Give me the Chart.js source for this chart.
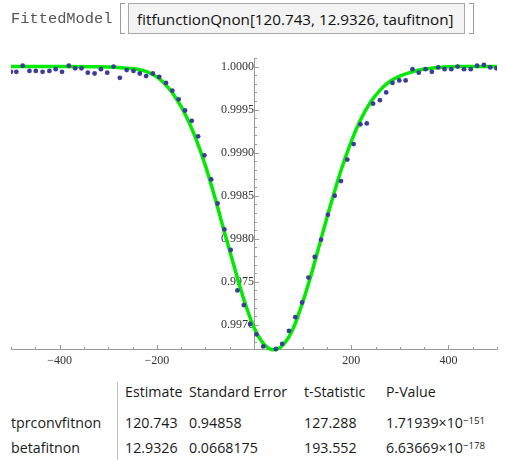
<!DOCTYPE html>
<html><head><meta charset="utf-8">
<script src="https://cdn.jsdelivr.net/npm/chart.js@4.4.1/dist/chart.umd.min.js"></script>
<style>
html,body{margin:0;padding:0;background:#fff;width:507px;height:460px;overflow:hidden;}
body{position:relative;}
#wrap{position:absolute;left:0;top:0;width:507px;height:380px;}
.t{position:absolute;white-space:nowrap;line-height:1.2;transform:translateY(-50%);color:#1a1a1a;}
.tab{font-family:"Open Sans","Noto Sans",sans-serif;font-size:16px;}
sup{font-size:0.68em;vertical-align:0.5em;line-height:0;}
#box{position:absolute;left:128px;top:3px;width:337px;height:31px;background:#f3f3f3;border:1px solid #a9a9a9;box-sizing:border-box;}
.brk{position:absolute;top:3px;height:31px;width:5px;border:1px solid #9a9a9a;box-sizing:border-box;}
#sep{position:absolute;left:117px;top:382px;width:1px;height:78px;background:#c4c4c4;}
</style></head><body>
<div id="wrap"><canvas id="c" width="507" height="380"></canvas></div>
<div class="t" id="fm" style="left:11px;top:19px;font-family:'Liberation Mono','Courier New',monospace;font-size:15px;color:#555;">FittedModel</div>
<div class="brk" style="left:120px;border-right:none;"></div>
<div class="brk" style="left:469px;border-left:none;"></div>
<div id="box"></div>
<div class="t" id="fx" style="left:137px;top:19px;font-family:'Open Sans','Noto Sans',sans-serif;font-size:15px;color:#111;">fitfunctionQnon[120.743, 12.9326, taufitnon]</div>
<div id="sep"></div>
<div id="table"></div>
<script>
// ---- data ----
const dataX = [-500,-489,-476,-462,-449,-435,-421,-408,-395,-381,-368,-355,-342,-328,-315,-302,-289,-276,-262,-248,-235,-222,-208,-195,-181,-168,-155,-142,-128,-115,-102,-88,-75,-61,-48,-34,-21,-8,5,19,32,45,58,72,85,99,112,125,138,152,166,179,192,205,219,232,245,259,272,285,299,312,326,339,353,366,379,392,406,419,432,446,459,473,486,499];
const dataY = [0.99994,0.99994,1.00001,0.99995,0.99995,0.99994,0.99995,0.99997,0.99994,1.00001,0.99998,0.99998,0.99993,0.99992,0.99997,0.99993,1.00000,0.99987,0.99996,0.99995,0.99992,0.99989,0.99992,0.99988,0.99981,0.99972,0.99962,0.99949,0.99937,0.99919,0.99897,0.99869,0.99841,0.99811,0.99787,0.99740,0.99723,0.99701,0.99689,0.99675,0.99669,0.99672,0.99678,0.99693,0.99709,0.99726,0.99755,0.99779,0.99799,0.99828,0.99850,0.99867,0.99892,0.99910,0.99933,0.99934,0.99957,0.99961,0.99970,0.99981,0.99984,0.99984,0.99997,0.99993,0.99997,0.99994,0.99999,0.99997,0.99997,1.00000,0.99997,0.99997,1.00001,1.00002,0.99999,0.99998];
const fitX = [-500,-400,-300,-260,-240,-220,-200,-180,-160,-140,-120,-100,-80,-60,-40,-20,0,20,40,60,80,100,120,140,160,180,200,220,240,260,280,300,320,340,380,420,500];
const fitY = [1.00000,1.00000,0.999995,0.99998,0.99997,0.99994,0.99988,0.99978,0.99963,0.99943,0.99917,0.99885,0.99847,0.99806,0.99766,0.99728,0.99697,0.99678,0.99671,0.99677,0.99695,0.99726,0.99763,0.99804,0.99844,0.99881,0.99913,0.99939,0.99959,0.99973,0.99983,0.99989,0.99993,0.99996,0.99999,1.00000,1.00000];
const xTickLabels = [-400,-200,200,400];
const xMinorTicks = [-500,-450,-350,-300,-250,-150,-100,-50,50,100,150,250,300,350,450,500];
const yTickLabels = [0.9970,0.9975,0.9980,0.9985,0.9990,0.9995,1.0000];
const yMinorTicks = [0.9968,0.9969,0.9971,0.9972,0.9973,0.9974,0.9976,0.9977,0.9978,0.9979,0.9981,0.9982,0.9983,0.9984,0.9986,0.9987,0.9988,0.9989,0.9991,0.9992,0.9993,0.9994,0.9996,0.9997,0.9998,0.9999,1.0001];
const xMin = -500, xMax = 500, yMin = 0.99672, yMax = 1.0001;

const colHeads = ["Estimate","Standard Error","t-Statistic","P-Value"];
const rowNames = ["tprconvfitnon","betafitnon"];
const estimates = ["120.743","12.9326"];
const stdErrors = ["0.94858","0.0668175"];
const tStats = ["127.288","193.552"];
const pMant = ["1.71939","6.63669"];
const pExp = ["\u2212151","\u2212178"];

// ---- table ----
const colX = [11,125,189,304,386];
const rowY = [392,423,448];
const tbl = document.getElementById('table');
function cell(html, x, y){
  const d=document.createElement('div'); d.className='t tab'; d.style.left=x+'px'; d.style.top=y+'px'; d.innerHTML=html; tbl.appendChild(d); return d;
}
const ref = cell(colHeads[0], colX[1], rowY[0]);
const fs = 16*57.5/ref.getBoundingClientRect().width;
ref.remove();
colHeads.forEach((h,i)=>cell(h, colX[i+1], rowY[0]));
rowNames.forEach((r,i)=>{
  const y=rowY[i+1];
  cell(r,colX[0],y); cell(estimates[i],colX[1],y); cell(stdErrors[i],colX[2],y); cell(tStats[i],colX[3],y);
  cell(pMant[i]+'\u00d710<sup>'+pExp[i]+'</sup>',colX[4],y);
});
document.querySelectorAll('.tab').forEach(e=>e.style.fontSize=fs+'px');
function fitW(id,target){const e=document.getElementById(id);const f=parseFloat(e.style.fontSize);e.style.fontSize=(f*target/e.getBoundingClientRect().width)+'px';}
fitW('fm',101.6); fitW('fx',316.6);

// ---- chart ----
const AX='#9a9a9a';
const axesPlugin = {
  id:'mmaAxes',
  beforeDatasetsDraw(chart){
    const {ctx, scales:{x,y}} = chart;
    const x0 = Math.round(x.getPixelForValue(0))+0.5;
    const yb = Math.round(y.getPixelForValue(yMin))+0.5;
    ctx.save(); ctx.strokeStyle=AX; ctx.lineWidth=1; ctx.beginPath();
    ctx.moveTo(x.left,yb); ctx.lineTo(x.right,yb);
    ctx.moveTo(x0,y.top); ctx.lineTo(x0,yb);
    xTickLabels.forEach(v=>{const p=Math.round(x.getPixelForValue(v))+0.5; ctx.moveTo(p,yb); ctx.lineTo(p,yb-4.5);});
    xMinorTicks.forEach(v=>{const p=Math.round(x.getPixelForValue(v))+0.5; ctx.moveTo(p,yb); ctx.lineTo(p,yb-2.5);});
    yTickLabels.forEach(v=>{const p=Math.round(y.getPixelForValue(v))+0.5; ctx.moveTo(x0,p); ctx.lineTo(x0+4.5,p);});
    yMinorTicks.forEach(v=>{const p=Math.round(y.getPixelForValue(v))+0.5; ctx.moveTo(x0,p); ctx.lineTo(x0+2.5,p);});
    ctx.stroke(); ctx.restore();
  }
};
const tickFont = {family:'Liberation Serif, DejaVu Serif, serif', size:12};
new Chart(document.getElementById('c'), {
  type:'scatter',
  data:{datasets:[
    {type:'scatter', data:dataX.map((v,i)=>({x:v,y:dataY[i]})), pointRadius:2.4, pointHoverRadius:2.4, pointBackgroundColor:'#3d3d99', pointBorderWidth:0, order:0, clip:{left:0,right:0,top:6,bottom:6}},
    {type:'line', data:fitX.map((v,i)=>({x:v,y:fitY[i]})), borderColor:'rgb(0,235,0)', borderWidth:3.5, pointRadius:0, cubicInterpolationMode:'monotone', fill:false, order:1, clip:{left:0,right:0,top:6,bottom:6}}
  ]},
  options:{
    responsive:false, animation:false, devicePixelRatio:1,
    layout:{padding:{left:11,right:10,top:58,bottom:11}},
    plugins:{legend:{display:false}, tooltip:{enabled:false}},
    scales:{
      x:{type:'linear', min:xMin, max:xMax, position:'bottom',
         grid:{display:false, drawTicks:false}, border:{display:false},
         afterBuildTicks:s=>{s.ticks=xTickLabels.map(v=>({value:v}));},
         afterFit:s=>{s.height=20;},
         ticks:{padding:5, font:tickFont, color:'#333', maxRotation:0, autoSkip:false,
                callback:v=> (v<0?'\u2212':'')+Math.abs(v)}},
      y:{type:'linear', min:yMin, max:yMax, position:{x:0},
         grid:{display:false, drawTicks:false}, border:{display:false},
         afterBuildTicks:s=>{s.ticks=yTickLabels.map(v=>({value:v}));},
         ticks:{padding:5.5, font:tickFont, color:'#333', autoSkip:false, callback:v=>v.toFixed(4)}}
    }
  },
  plugins:[axesPlugin]
});
</script>
</body></html>
